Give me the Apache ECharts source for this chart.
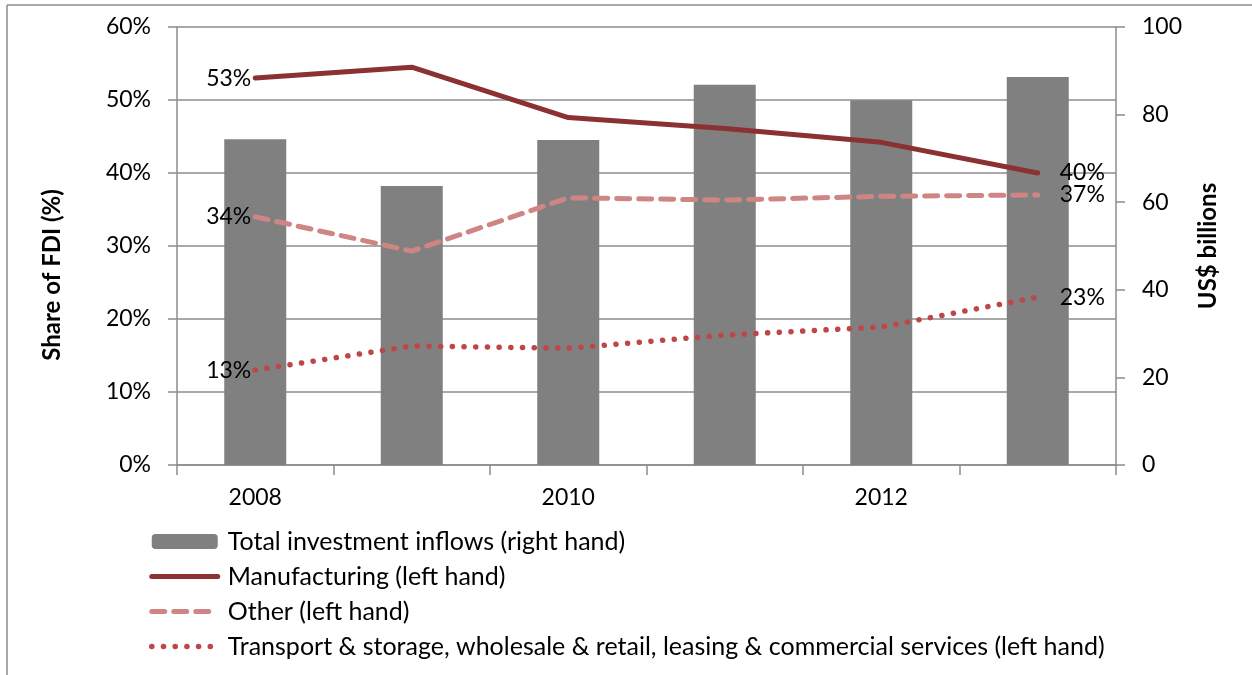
<!DOCTYPE html>
<html>
<head>
<meta charset="utf-8">
<script src="https://cdn.jsdelivr.net/npm/echarts@6/dist/echarts.min.js"></script>
<style>
  html, body { margin: 0; padding: 0; background: #fff; }
  #chart { width: 1252px; height: 675px; }
</style>
</head>
<body>
<div id="chart"></div>
<script>
// FDI by sector (share, left axis) and total inflows (US$ bn, right axis)
const years = ['2008', '2009', '2010', '2011', '2012', '2013'];
const totalInflows = [74.4, 63.7, 74.2, 86.8, 83.3, 88.6];
const manufacturing = [53, 54.5, 47.6, 46.1, 44.2, 40];
const other = [34, 29.3, 36.6, 36.3, 36.8, 37];
const transport = [13, 16.3, 16.0, 17.8, 18.9, 23];
const leftTicks = { min: 0, max: 60, interval: 10 };
const rightTicks = { min: 0, max: 100, interval: 20 };

const FONT = 'Lato';
const axisColor = '#8c8c8c';
const TICK_FONT = 23;

const styles = {
  manufacturing: { color: '#8b3131', width: 5, type: 'solid', cap: 'round', join: 'round' },
  other: { color: '#d08585', width: 5, type: [13, 9], cap: 'round', join: 'round' },
  transport: { color: '#bf4646', width: 5.5, type: [0.1, 11.6], cap: 'round', join: 'round' }
};

// Value labels only on the first and last points of each line
function withEndLabels(values) {
  return values.map((v, i) => {
    if (i === 0) return { value: v, label: { show: true, position: 'left', distance: 4 } };
    if (i === values.length - 1) return { value: v, label: { show: true, position: 'right', distance: 22 } };
    return v;
  });
}

const lineLabel = {
  show: false,
  color: '#000',
  fontFamily: FONT,
  fontSize: TICK_FONT,
  formatter: p => Math.round(p.value) + '%'
};

const names = {
  total: 'Total investment inflows (right hand)',
  manufacturing: 'Manufacturing (left hand)',
  other: 'Other (left hand)',
  transport: 'Transport & storage, wholesale & retail, leasing & commercial services (left hand)'
};

const chart = echarts.init(document.getElementById('chart'), null, { renderer: 'canvas' });

function lineSeries(key, values, z) {
  return {
    name: names[key],
    type: 'line',
    yAxisIndex: 0,
    symbol: 'circle',
    symbolSize: 0,
    showSymbol: true,
    lineStyle: styles[key],
    itemStyle: { color: styles[key].color },
    label: lineLabel,
    data: withEndLabels(values),
    z: z
  };
}

function legendLine(key) {
  return {
    name: names[key],
    itemStyle: { opacity: 0 },
    lineStyle: styles[key]
  };
}

chart.setOption({
  animation: false,
  backgroundColor: '#fff',
  textStyle: { fontFamily: FONT, color: '#000' },
  grid: { left: 177, right: 136, top: 27, bottom: 210 },
  graphic: [
    { type: 'line', shape: { x1: 7, y1: 5, x2: 1252, y2: 5 }, style: { stroke: axisColor, lineWidth: 1.5 } },
    { type: 'line', shape: { x1: 7, y1: 5, x2: 7, y2: 675 }, style: { stroke: axisColor, lineWidth: 1.5 } }
  ],
  legend: {
    orient: 'vertical',
    left: 149,
    top: 529,
    padding: 0,
    itemWidth: 66,
    itemHeight: 15,
    itemGap: 10,
    textStyle: { fontFamily: FONT, fontSize: 25, lineHeight: 25, color: '#000', padding: [0, 0, 0, 5] },
    data: [
      { name: names.total },
      legendLine('manufacturing'),
      legendLine('other'),
      legendLine('transport')
    ]
  },
  xAxis: {
    type: 'category',
    data: years,
    boundaryGap: true,
    axisLine: { lineStyle: { color: axisColor, width: 1.5 } },
    axisTick: { show: true, interval: 0, length: 10, lineStyle: { color: axisColor, width: 1.5 } },
    axisLabel: { interval: 1, margin: 21, fontSize: TICK_FONT, color: '#000', fontFamily: FONT },
    splitLine: { show: false }
  },
  yAxis: [
    {
      type: 'value',
      position: 'left',
      min: leftTicks.min, max: leftTicks.max, interval: leftTicks.interval,
      name: 'Share of FDI (%)',
      nameLocation: 'middle',
      nameRotate: 90,
      nameGap: 113,
      nameTextStyle: { fontFamily: FONT, fontSize: 24, fontWeight: 'bold', color: '#000', padding: [0, 58, 0, 0] },
      axisLine: { show: true, lineStyle: { color: axisColor, width: 1.5 } },
      axisTick: { show: true, length: 9, lineStyle: { color: axisColor, width: 1.5 } },
      axisLabel: { formatter: '{value}%', margin: 26, fontSize: TICK_FONT, color: '#000', fontFamily: FONT },
      splitLine: { show: true, lineStyle: { color: axisColor, width: 1.5 } }
    },
    {
      type: 'value',
      position: 'right',
      min: rightTicks.min, max: rightTicks.max, interval: rightTicks.interval,
      name: 'US$ billions',
      nameLocation: 'middle',
      nameRotate: 90,
      nameGap: 80,
      nameTextStyle: { fontFamily: FONT, fontSize: 24, fontWeight: 'bold', color: '#000' },
      axisLine: { show: true, lineStyle: { color: axisColor, width: 1.5 } },
      axisTick: { show: true, length: 9, lineStyle: { color: axisColor, width: 1.5 } },
      axisLabel: { margin: 26, fontSize: TICK_FONT, color: '#000', fontFamily: FONT },
      splitLine: { show: false }
    }
  ],
  series: [
    {
      name: names.total,
      type: 'bar',
      yAxisIndex: 1,
      barWidth: 62,
      itemStyle: { color: '#808080' },
      data: totalInflows,
      z: 1
    },
    lineSeries('manufacturing', manufacturing, 4),
    lineSeries('other', other, 3),
    lineSeries('transport', transport, 2)
  ]
});
</script>
</body>
</html>
